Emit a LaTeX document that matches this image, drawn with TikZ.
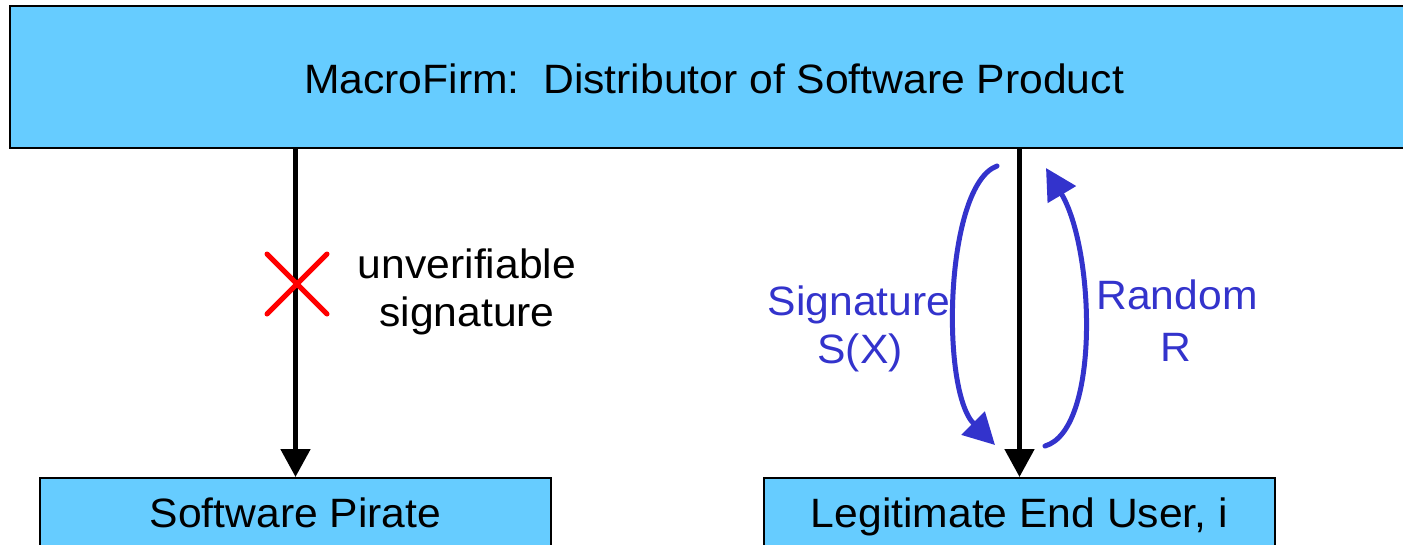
\documentclass[tikz,border=0pt]{standalone}
\usepackage{fontspec}
\setmainfont{Liberation Sans}[FakeStretch=1.04]
\usetikzlibrary{arrows.meta,calc}
\definecolor{boxfill}{RGB}{102,204,255}
\definecolor{flowblue}{RGB}{51,51,204}
\tikzset{
  x=1pt, y=1pt,
  party/.style={draw=black, line width=2pt, fill=boxfill, inner sep=0pt},
  label/.style={anchor=base, inner sep=0pt, font=\fontsize{41}{48}\selectfont},
  flow/.style={line width=5pt, -{Triangle[length=28pt,width=29pt]}},
  exchange/.style={draw=flowblue, line width=5pt, line cap=round,
    -{Triangle[length=31pt,width=32pt]}},
  cross/.style={draw=red, line width=5pt, line cap=round}
}
\begin{document}
\begin{tikzpicture}
\useasboundingbox (0,0) rectangle (1403,-544);
\clip (0,0) rectangle (1403,-544);

% parties
\node[party, minimum width=1406, minimum height=142] (firm) at (713,-77) {};
\node[party, minimum width=511, minimum height=72] (pirate) at (295.5,-514) {};
\node[party, minimum width=511, minimum height=72] (user) at (1019.5,-514) {};
\node[label] (firmtext) at (714,-93) {MacroFirm:\ \ Distributor of Software Product};
\node[label] (piratetext) at (pirate.center |- 0,-527) {Software Pirate};
\node[label] (usertext) at (user.center |- 0,-527) {Legitimate End User, i};

% distribution channels
\draw[flow] (pirate.north |- firm.south) -- (pirate.north);
\draw[flow] (user.north |- firm.south) -- (user.north);

% rejected signature
\coordinate (x) at (297,-284);
\draw[cross] ($(x)+(-30,30)$) -- ($(x)+(30,-30)$);
\draw[cross] ($(x)+(-30,-30)$) -- ($(x)+(30,30)$);
\node[label] (unverif1) at (467,-278) {unverifiable};
\node[label] (unverif2) at (467,-326) {signature};

% challenge / response
\coordinate (sigstart) at (997,-166);
\coordinate (sigend) at (995,-445);
\coordinate (rndstart) at (1045,-446);
\coordinate (rndend) at (1046,-168);
\draw[exchange] (sigstart) .. controls (945,-185) and (940,-390) .. (sigend);
\draw[exchange] (rndstart) .. controls (1100,-430) and (1095,-250) .. (rndend);
\node[label, text=flowblue] (sig1) at (859,-315) {Signature};
\node[label, text=flowblue] (sig2) at (860,-363) {S(X)};
\node[label, text=flowblue] (rnd1) at (1177,-309) {Random};
\node[label, text=flowblue] (rnd2) at (1176,-361) {R};
\end{tikzpicture}
\end{document}
